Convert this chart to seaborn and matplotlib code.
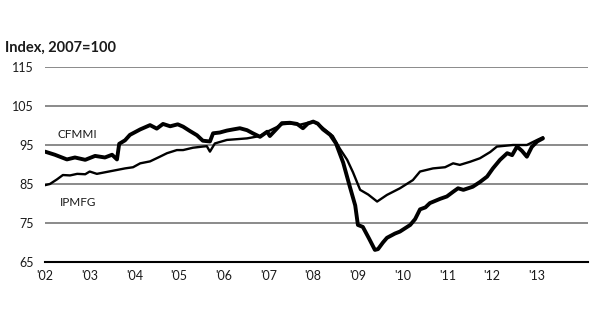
import matplotlib
matplotlib.use("Agg")
import matplotlib.pyplot as plt
import seaborn as sns
import pandas as pd

# CFMMI (thick line): decimal year, index value
cfmmi_t = [2002.0, 2002.22, 2002.49, 2002.67, 2002.9, 2003.12, 2003.34, 2003.5, 2003.61, 2003.66,
           2003.79, 2003.9, 2004.13, 2004.35, 2004.5, 2004.64, 2004.8, 2004.97, 2005.09, 2005.24,
           2005.4, 2005.53, 2005.69, 2005.76, 2005.91, 2006.07, 2006.21, 2006.36, 2006.52, 2006.65,
           2006.81, 2006.97, 2007.03, 2007.17, 2007.3, 2007.48, 2007.64, 2007.77, 2007.88, 2008.0,
           2008.1, 2008.22, 2008.38, 2008.51, 2008.67, 2008.82, 2008.94, 2009.0, 2009.11, 2009.25,
           2009.38, 2009.45, 2009.56, 2009.65, 2009.83, 2009.94, 2010.17, 2010.28, 2010.39, 2010.51,
           2010.61, 2010.84, 2010.99, 2011.13, 2011.24, 2011.36, 2011.57, 2011.73, 2011.89, 2012.02,
           2012.18, 2012.34, 2012.45, 2012.56, 2012.67, 2012.78, 2012.89, 2013.01, 2013.14]
cfmmi_v = [93.3, 92.5, 91.3, 91.8, 91.2, 92.2, 91.8, 92.5, 91.3, 95.3,
           96.2, 97.6, 99.0, 100.1, 99.2, 100.4, 99.8, 100.3, 99.7, 98.6,
           97.5, 96.1, 95.9, 98.0, 98.2, 98.7, 99.0, 99.3, 98.8, 98.0,
           97.1, 98.4, 97.3, 99.0, 100.6, 100.7, 100.4, 99.3, 100.5, 101.0,
           100.5, 99.0, 97.6, 95.4, 90.5, 84.3, 79.5, 74.5, 74.0, 71.0,
           68.1, 68.3, 70.0, 71.2, 72.3, 72.8, 74.5, 76.0, 78.5, 79.0,
           80.1, 81.2, 81.8, 83.0, 83.9, 83.5, 84.3, 85.5, 86.9, 89.0,
           91.2, 92.9, 92.4, 94.6, 93.5, 92.0, 94.5, 95.9, 96.7]

# IPMFG (thin line)
ipmfg_t = [2002.0, 2002.11, 2002.27, 2002.4, 2002.56, 2002.72, 2002.9, 2003.0, 2003.16, 2003.34,
           2003.61, 2003.79, 2003.97, 2004.13, 2004.35, 2004.57, 2004.73, 2004.95, 2005.09, 2005.31,
           2005.53, 2005.62, 2005.69, 2005.8, 2006.07, 2006.3, 2006.52, 2006.81, 2006.97, 2007.17,
           2007.3, 2007.48, 2007.7, 2007.88, 2008.0, 2008.15, 2008.31, 2008.44, 2008.6, 2008.76,
           2008.89, 2009.05, 2009.23, 2009.43, 2009.65, 2009.94, 2010.23, 2010.39, 2010.68, 2010.95,
           2011.13, 2011.28, 2011.51, 2011.73, 2011.96, 2012.11, 2012.29, 2012.47, 2012.78, 2013.01,
           2013.14]
ipmfg_v = [84.7, 85.0, 86.2, 87.3, 87.2, 87.6, 87.5, 88.2, 87.6, 88.0,
           88.6, 89.0, 89.3, 90.3, 90.8, 92.0, 92.9, 93.7, 93.7, 94.3,
           94.6, 94.7, 93.3, 95.4, 96.3, 96.5, 96.7, 97.3, 98.4, 99.5,
           100.3, 100.5, 100.2, 100.7, 101.0, 100.0, 98.5, 97.3, 94.0, 91.2,
           88.0, 83.5, 82.3, 80.5, 82.2, 83.9, 86.0, 88.2, 89.0, 89.3,
           90.3, 89.9, 90.7, 91.6, 93.2, 94.6, 94.8, 95.0, 95.0, 96.3,
           97.0]

year_ticks = list(range(2002, 2015))
year_labels = ["'02", "'03", "'04", "'05", "'06", "'07", "'08", "'09", "'10", "'11", "'12", "'13", ""]
y_ticks = [65, 75, 85, 95, 105, 115]

sns.set_style("white")
plt.rcParams['font.family'] = ['Lato', 'DejaVu Sans']

df_c = pd.DataFrame({"t": cfmmi_t, "v": cfmmi_v})
df_i = pd.DataFrame({"t": ipmfg_t, "v": ipmfg_v})

fig = plt.figure(figsize=(5.95, 3.35), dpi=100)
ax = fig.add_axes([45 / 595, 73 / 335, 543 / 595, 195 / 335])

for yv in y_ticks[1:]:
    ax.axhline(yv, color="#8a8a8a", lw=1.4, zorder=1)

sns.lineplot(data=df_i, x="t", y="v", ax=ax, color="black", lw=1.7, zorder=3, sort=False)
sns.lineplot(data=df_c, x="t", y="v", ax=ax, color="black", lw=2.8, zorder=4, sort=False)

ax.set_xlim(2002, 2002 + 543 / 44.7)
ax.set_ylim(65, 115)
ax.set_xticks(year_ticks)
ax.set_xticklabels(year_labels, fontsize=9, color="#1a1a1a")
ax.set_yticks(y_ticks)
ax.set_yticklabels([str(v) for v in y_ticks], fontsize=9, color="#1a1a1a")
ax.tick_params(axis="x", direction="in", length=4, width=1.3, color="black", pad=6)
ax.tick_params(axis="y", length=0, pad=8)
ax.set_xlabel("")
ax.set_ylabel("")
for s in ["top", "right", "left"]:
    ax.spines[s].set_visible(False)
ax.spines["bottom"].set_color("black")
ax.spines["bottom"].set_linewidth(1.5)
ax.spines["bottom"].set_zorder(5)

fig.text(5 / 595, 1 - 48 / 335, "Index, 2007=100", fontsize=10.5, fontweight="bold",
         ha="left", va="center", color="#1a1a1a")
ax.text(2002.27, 97.8, "CFMMI", fontsize=8.5, color="#1a1a1a", ha="left", va="center")
ax.text(2002.33, 80.2, "IPMFG", fontsize=8.5, color="#1a1a1a", ha="left", va="center")

fig.savefig("out.png", dpi=100)
